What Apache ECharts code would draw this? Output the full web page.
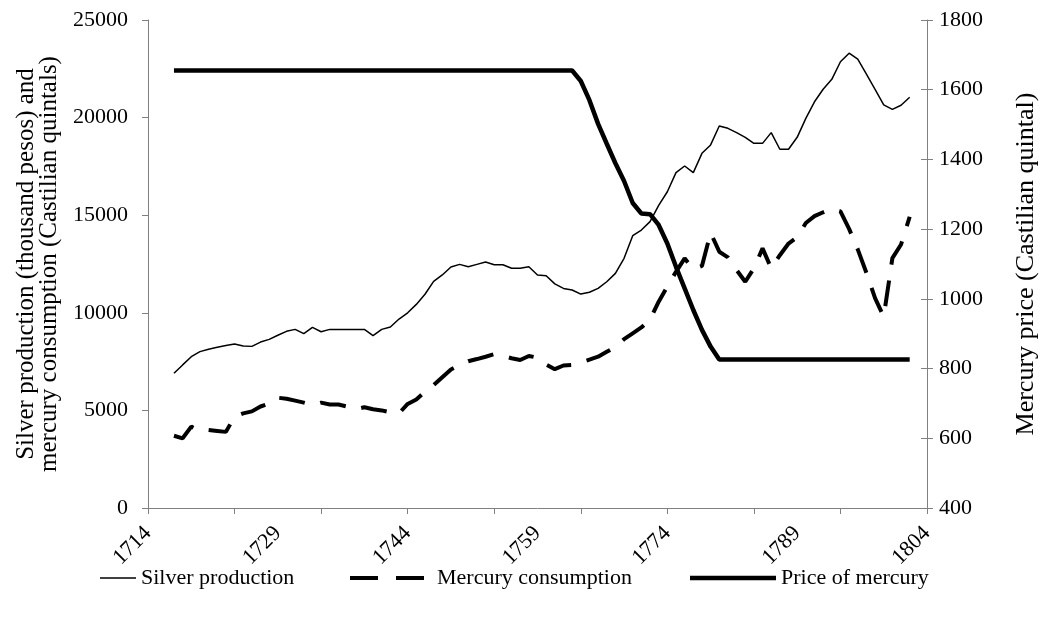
<!DOCTYPE html>
<html>
<head>
<meta charset="utf-8">
<title>Silver production, mercury consumption and price</title>
<script src="https://cdn.jsdelivr.net/npm/echarts@6/dist/echarts.min.js"></script>
<style>
  html, body { margin: 0; padding: 0; background: #fff; }
  #chart { width: 1047px; height: 618px; }
</style>
</head>
<body>
<div id="chart"></div>
<script>
// years with data
const years = [
  1717, 1718, 1719, 1720, 1721, 1722, 1723, 1724, 1725, 1726,
  1727, 1728, 1729, 1730, 1731, 1732, 1733, 1734, 1735, 1736,
  1737, 1738, 1739, 1740, 1741, 1742, 1743, 1744, 1745, 1746,
  1747, 1748, 1749, 1750, 1751, 1752, 1753, 1754, 1755, 1756,
  1757, 1758, 1759, 1760, 1761, 1762, 1763, 1764, 1765, 1766,
  1767, 1768, 1769, 1770, 1771, 1772, 1773, 1774, 1775, 1776,
  1777, 1778, 1779, 1780, 1781, 1782, 1783, 1784, 1785, 1786,
  1787, 1788, 1789, 1790, 1791, 1792, 1793, 1794, 1795, 1796,
  1797, 1798, 1799, 1800, 1801, 1802
]

// silver production (thousand pesos)
const silver = [
  6900, 7330, 7750, 8010, 8130, 8230, 8320, 8400, 8300, 8280,
  8500, 8640, 8850, 9050, 9150, 8930, 9250, 9030, 9150, 9150,
  9150, 9150, 9150, 8830, 9150, 9270, 9680, 10000, 10430, 10950,
  11610, 11940, 12350, 12480, 12360, 12480, 12600, 12460, 12460, 12280,
  12280, 12360, 11940, 11900, 11480, 11250, 11170, 10960, 11050, 11250,
  11590, 12020, 12790, 13950, 14240, 14670, 15500, 16200, 17180, 17520,
  17180, 18170, 18600, 19570, 19450, 19230, 18990, 18680, 18680, 19230,
  18380, 18380, 18990, 19960, 20810, 21450, 21960, 22860, 23300, 22990,
  22230, 21450, 20650, 20420, 20630, 21040
]

// mercury consumption (Castilian quintals)
const mercury = [
  3700, 3570, 4170, 3950, 4000, 3950, 3900, 4680, 4850, 4950,
  5200, 5350, 5650, 5600, 5500, 5400, 5280, 5400, 5300, 5300,
  5200, 5060, 5160, 5060, 5000, 4900, 4850, 5330, 5560, 5950,
  6300, 6700, 7100, 7330, 7520, 7630, 7750, 7880, 7800, 7670,
  7580, 7790, 7700, 7350, 7110, 7300, 7330, 7450, 7600, 7750,
  8000, 8250, 8650, 8950, 9250, 9650, 10570, 11350, 12100, 12790,
  12230, 12400, 14100, 13130, 12840, 12190, 11590, 12280, 13300, 12280,
  12950, 13550, 13870, 14600, 14950, 15150, 15330, 15200, 14300, 13250,
  12050, 10750, 9800, 12800, 13500, 14920
]

// price of mercury (per Castilian quintal)
const price = [
  1655, 1655, 1655, 1655, 1655, 1655, 1655, 1655, 1655, 1655,
  1655, 1655, 1655, 1655, 1655, 1655, 1655, 1655, 1655, 1655,
  1655, 1655, 1655, 1655, 1655, 1655, 1655, 1655, 1655, 1655,
  1655, 1655, 1655, 1655, 1655, 1655, 1655, 1655, 1655, 1655,
  1655, 1655, 1655, 1655, 1655, 1655, 1655, 1625, 1570, 1502,
  1445, 1389, 1338, 1275, 1245, 1243, 1212, 1159, 1092, 1030,
  968, 911, 863, 826, 826, 826, 826, 826, 826, 826,
  826, 826, 826, 826, 826, 826, 826, 826, 826, 826,
  826, 826, 826, 826, 826, 826
]

const tickYears = [1714, 1724, 1734, 1744, 1754, 1764, 1774, 1784, 1794, 1804]
const labelYears = [1714, 1729, 1744, 1759, 1774, 1789, 1804]

const font = '"Liberation Serif", "Times New Roman", serif'
const axisGray = '#808080'
const fs = 22

const pairs = arr => years.map((y, i) => [y, arr[i]])
const plain = v => String(v)

const chart = echarts.init(document.getElementById('chart'))

const legendText = { fontFamily: font, fontSize: 22, color: '#000' }
const legendBase = { top: 567, itemGap: 0, padding: 0, textStyle: legendText, itemStyle: { color: '#000' } }

chart.setOption({
  animation: false,
  backgroundColor: '#fff',
  grid: { left: 148, right: 120, top: 20, bottom: 110 },
  legend: [
    Object.assign({}, legendBase, {
      left: 100, itemWidth: 36, itemHeight: 1.5,
      data: [{ name: 'Silver production', icon: 'rect' }]
    }),
    Object.assign({}, legendBase, {
      left: 350, itemWidth: 74, itemHeight: 4,
      textStyle: Object.assign({}, legendText, { padding: [0, 0, 0, 8] }),
      data: [{ name: 'Mercury consumption', icon: 'path://M0,0h28v4h-28z M46,0h28v4h-28z' }]
    }),
    Object.assign({}, legendBase, {
      left: 690, itemWidth: 86, itemHeight: 4.5,
      data: [{ name: 'Price of mercury', icon: 'rect' }]
    })
  ],
  xAxis: {
    type: 'value',
    min: 1714,
    max: 1804,
    splitLine: { show: false },
    axisLine: { lineStyle: { color: axisGray, width: 1 } },
    axisTick: { customValues: tickYears, length: 6, lineStyle: { color: axisGray } },
    axisLabel: {
      customValues: labelYears,
      formatter: plain,
      rotate: 45,
      margin: 22,
      fontFamily: font,
      fontSize: fs,
      color: '#000'
    }
  },
  yAxis: [
    {
      type: 'value',
      position: 'left',
      min: 0,
      max: 25000,
      interval: 5000,
      name: 'Silver production (thousand pesos) and\nmercury consumption (Castilian quintals)',
      nameLocation: 'middle',
      nameRotate: 90,
      nameGap: 76,
      nameTextStyle: { fontFamily: font, fontSize: 25, color: '#000', lineHeight: 23 },
      splitLine: { show: false },
      axisLine: { show: true, lineStyle: { color: axisGray } },
      axisTick: { show: true, length: 6, lineStyle: { color: axisGray } },
      axisLabel: { margin: 20, formatter: plain, fontFamily: font, fontSize: fs, color: '#000' }
    },
    {
      type: 'value',
      position: 'right',
      min: 400,
      max: 1800,
      interval: 200,
      name: 'Mercury price (Castilian quintal)',
      nameLocation: 'middle',
      nameRotate: 90,
      nameGap: 86,
      nameTextStyle: { fontFamily: font, fontSize: 26, color: '#000' },
      splitLine: { show: false },
      axisLine: { show: true, lineStyle: { color: axisGray } },
      axisTick: { show: true, length: 6, lineStyle: { color: axisGray } },
      axisLabel: { margin: 12, formatter: plain, fontFamily: font, fontSize: fs, color: '#000' }
    },
    {
      // inner half of the crossing ticks on the right axis
      type: 'value',
      position: 'right',
      min: 400,
      max: 1800,
      interval: 200,
      splitLine: { show: false },
      axisLine: { show: false },
      axisTick: { show: true, inside: true, length: 6, lineStyle: { color: axisGray } },
      axisLabel: { show: false }
    }
  ],
  series: [
    {
      name: 'Silver production',
      type: 'line',
      yAxisIndex: 0,
      data: pairs(silver),
      symbol: 'none',
      lineStyle: { color: '#000', width: 1.5 },
      itemStyle: { color: '#000' }
    },
    {
      name: 'Mercury consumption',
      type: 'line',
      yAxisIndex: 0,
      data: pairs(mercury),
      symbol: 'none',
      lineStyle: { color: '#000', width: 4, type: [26, 16], cap: 'butt' },
      itemStyle: { color: '#000' }
    },
    {
      name: 'Price of mercury',
      type: 'line',
      yAxisIndex: 1,
      data: pairs(price),
      symbol: 'none',
      lineStyle: { color: '#000', width: 4.5 },
      itemStyle: { color: '#000' }
    }
  ]
})

window.addEventListener('resize', () => chart.resize())
</script>
</body>
</html>
